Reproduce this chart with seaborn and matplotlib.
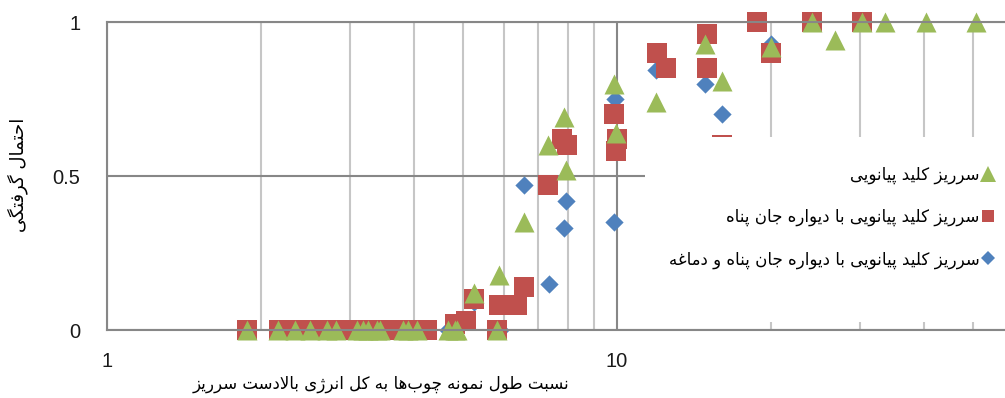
import matplotlib
matplotlib.use("Agg")
import matplotlib.pyplot as plt
import seaborn as sns
import pandas as pd
from matplotlib.lines import Line2D
from matplotlib.patches import Rectangle
from matplotlib.ticker import FixedLocator, NullFormatter, FixedFormatter

# ---------------- data ----------------
series_names = [
    "سرریز کلید پیانویی",
    "سرریز کلید پیانویی با دیواره جان پناه",
    "سرریز کلید پیانویی با دیواره جان پناه و دماغه",
]
x_title = "نسبت طول نمونه چوب\u200cها به کل انرژی بالادست سرریز"
y_title = "احتمال گرفتگی"

# series 1: triangles
tri_x = [1.88, 2.16, 2.34, 2.50, 2.70, 2.81, 3.09, 3.18, 3.25, 3.38, 3.43, 3.80,
         3.89, 4.05, 4.66, 4.81, 4.86, 5.82, 5.24, 5.87, 6.57, 7.32, 7.87, 7.94,
         9.86, 9.95, 11.9, 14.9, 16.1, 20.0, 24.1, 26.8, 30.2, 33.5, 40.4, 50.6]
tri_y = [0, 0, 0, 0, 0, 0, 0, 0, 0, 0, 0, 0,
         0, 0, 0, 0, 0, 0, 0.12, 0.18, 0.35, 0.60, 0.69, 0.52,
         0.80, 0.64, 0.74, 0.93, 0.81, 0.92, 1.0, 0.94, 1.0, 1.0, 1.0, 1.0]

# series 2: squares
sq_x = [1.88, 2.17, 2.36, 2.54, 2.72, 2.93, 3.16, 3.39, 3.67, 3.94, 4.24, 5.82,
        4.81, 5.06, 5.24, 5.87, 6.37, 6.57, 7.32, 7.80, 7.98, 9.86, 10.0, 9.95,
        11.98, 12.5, 15.0, 15.0, 16.1, 18.8, 20.0, 24.1, 30.2]
sq_y = [0, 0, 0, 0, 0, 0, 0, 0, 0, 0, 0, 0,
        0.02, 0.03, 0.10, 0.08, 0.08, 0.14, 0.47, 0.62, 0.60, 0.70, 0.62, 0.58,
        0.90, 0.85, 0.96, 0.85, 0.60, 1.0, 0.90, 1.0, 1.0]

# series 3: diamonds
dm_x = [2.15, 2.54, 3.16, 3.94, 4.66, 5.90,
        5.24, 6.57, 7.35, 7.94, 7.87, 9.86, 9.90, 11.9, 14.9, 16.1, 20.0]
dm_y = [0, 0, 0, 0, 0, 0,
        0.09, 0.47, 0.15, 0.42, 0.33, 0.35, 0.75, 0.845, 0.80, 0.70, 0.93]

x_major = [1, 10]
x_major_labels = ["1", "10"]
x_minor = [2, 3, 4, 5, 6, 7, 8, 9, 20, 30, 40, 50, 60, 70, 80, 90]
y_ticks = [0, 0.5, 1]
y_tick_labels = ["0", "0.5", "1"]

colors = ["#9BBB59", "#C0504D", "#4F81BD"]

# ------------- Arabic/Persian shaping (presentation forms) -------------
FORMS = {
    "\u0627": ("\uFE8D", "\uFE8E", None, None),
    "\u0628": ("\uFE8F", "\uFE90", "\uFE91", "\uFE92"),
    "\u062A": ("\uFE95", "\uFE96", "\uFE97", "\uFE98"),
    "\u062C": ("\uFE9D", "\uFE9E", "\uFE9F", "\uFEA0"),
    "\u062D": ("\uFEA1", "\uFEA2", "\uFEA3", "\uFEA4"),
    "\u062F": ("\uFEA9", "\uFEAA", None, None),
    "\u0631": ("\uFEAD", "\uFEAE", None, None),
    "\u0632": ("\uFEAF", "\uFEB0", None, None),
    "\u0633": ("\uFEB1", "\uFEB2", "\uFEB3", "\uFEB4"),
    "\u0637": ("\uFEC1", "\uFEC2", "\uFEC3", "\uFEC4"),
    "\u063A": ("\uFECD", "\uFECE", "\uFECF", "\uFED0"),
    "\u0641": ("\uFED1", "\uFED2", "\uFED3", "\uFED4"),
    "\u0644": ("\uFEDD", "\uFEDE", "\uFEDF", "\uFEE0"),
    "\u0645": ("\uFEE1", "\uFEE2", "\uFEE3", "\uFEE4"),
    "\u0646": ("\uFEE5", "\uFEE6", "\uFEE7", "\uFEE8"),
    "\u0647": ("\uFEE9", "\uFEEA", "\uFEEB", "\uFEEC"),
    "\u0648": ("\uFEED", "\uFEEE", None, None),
    "\u067E": ("\uFB56", "\uFB57", "\uFB58", "\uFB59"),
    "\u0686": ("\uFB7A", "\uFB7B", "\uFB7C", "\uFB7D"),
    "\u0698": ("\uFB8A", "\uFB8B", None, None),
    "\u06A9": ("\uFB8E", "\uFB8F", "\uFB90", "\uFB91"),
    "\u06AF": ("\uFB92", "\uFB93", "\uFB94", "\uFB95"),
    "\u06CC": ("\uFBFC", "\uFBFD", "\uFBFE", "\uFBFF"),
}


def _dual(c):
    return c in FORMS and FORMS[c][2] is not None


def shape(text):
    chars = list(text)
    n = len(chars)
    res = []
    i = 0
    while i < n:
        c = chars[i]
        if c not in FORMS:
            if c != "\u200c":
                res.append(c)
            i += 1
            continue
        prev = chars[i - 1] if i > 0 else None
        jp = prev is not None and _dual(prev)
        if c == "\u0644" and i + 1 < n and chars[i + 1] == "\u0627":
            res.append("\uFEFC" if jp else "\uFEFB")
            i += 2
            continue
        nxt = chars[i + 1] if i + 1 < n else None
        jn = _dual(c) and nxt is not None and nxt in FORMS
        iso, fin, ini, med = FORMS[c]
        if jp and jn:
            g = med
        elif jp:
            g = fin
        elif jn:
            g = ini
        else:
            g = iso
        res.append(g)
        i += 1
    return "".join(reversed(res))


# ---------------- plot ----------------
sns.set_theme(style="white")
plt.rcParams["font.family"] = ["Liberation Sans", "DejaVu Sans"]

W, H = 1005, 398
fig = plt.figure(figsize=(W / 100, H / 100), dpi=100)
ax = fig.add_axes([107 / W, 68 / H, 1020 / W, 308 / H])
ax.set_xscale("log")

df_dm = pd.DataFrame({"x": dm_x, "y": dm_y})
df_sq = pd.DataFrame({"x": sq_x, "y": sq_y})
df_tri = pd.DataFrame({"x": tri_x, "y": tri_y})

sns.scatterplot(data=df_dm, x="x", y="y", marker="D", s=9.3 ** 2, color=colors[2],
                linewidth=0, ax=ax, clip_on=False, zorder=2.1, legend=False)
sns.scatterplot(data=df_sq, x="x", y="y", marker="s", s=14.4 ** 2, color=colors[1],
                linewidth=0, ax=ax, clip_on=False, zorder=2.2, legend=False)
sns.scatterplot(data=df_tri, x="x", y="y", marker="^", s=14.4 ** 2, color=colors[0],
                linewidth=0, ax=ax, clip_on=False, zorder=2.3, legend=False)

ax.set_xlim(1, 100)
ax.set_ylim(0, 1)
ax.set_xlabel("")
ax.set_ylabel("")

ax.xaxis.set_major_locator(FixedLocator(x_major))
ax.xaxis.set_major_formatter(FixedFormatter(x_major_labels))
ax.xaxis.set_minor_locator(FixedLocator(x_minor))
ax.xaxis.set_minor_formatter(NullFormatter())
ax.set_yticks(y_ticks)
ax.set_yticklabels(y_tick_labels)
ax.tick_params(axis="both", which="both", length=0)
ax.tick_params(axis="x", pad=16, labelsize=14.5, labelcolor="#1a1a1a")
ax.tick_params(axis="y", pad=19, labelsize=14.5, labelcolor="#1a1a1a")

ax.set_axisbelow(True)
ax.grid(which="major", axis="both", color="#878787", linewidth=1.5)
ax.grid(which="minor", axis="x", color="#C6C6C6", linewidth=1.5)
for side in ["left", "bottom", "top"]:
    ax.spines[side].set_color("#878787")
    ax.spines[side].set_linewidth(1.5)
ax.spines["right"].set_visible(False)

# legend area (opaque white, covers gridlines and markers)
rect = Rectangle((645 / W, (H - 322) / H), 0.5, 185 / H, transform=fig.transFigure,
                 facecolor="white", edgecolor="none", zorder=4, clip_on=False)
ax.add_artist(rect)

markers = ["^", "s", "D"]
msizes = [11, 9, 7.5]
handles = [Line2D([], [], linestyle="none", marker=m, markersize=ms, color=c,
                  markeredgewidth=0)
           for m, ms, c in zip(markers, msizes, colors)]
leg = ax.legend(handles, [shape(s) for s in series_names],
                loc="center right", bbox_to_anchor=(994 / W, (H - 217) / H),
                bbox_transform=fig.transFigure, frameon=False, markerfirst=False,
                prop={"family": "DejaVu Sans", "size": 12}, labelspacing=1.45,
                handlelength=0.75, handletextpad=0.1, borderaxespad=0, borderpad=0)
leg.set_zorder(5)
for t in leg.get_texts():
    t.set_color("black")

fig.text(381 / W, (H - 384) / H, shape(x_title), ha="center", va="center",
         fontsize=12, family="DejaVu Sans", color="black")
fig.text(18 / W, (H - 175) / H, shape(y_title), ha="center", va="center",
         rotation=90, fontsize=13, family="DejaVu Sans", color="black")

fig.savefig("out.png", dpi=100)
